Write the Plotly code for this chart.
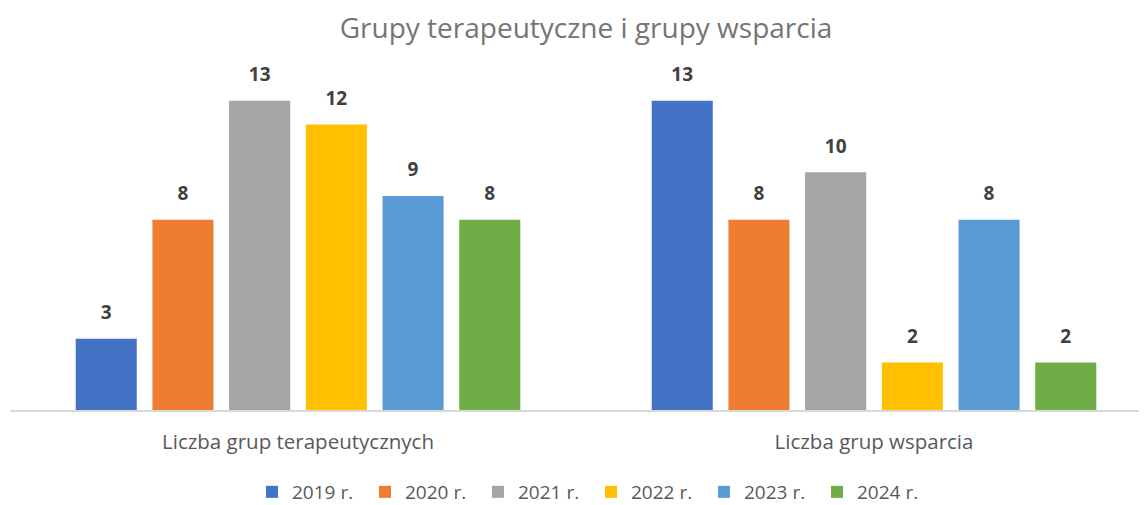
import plotly.graph_objects as go

categories = ["Liczba grup terapeutycznych", "Liczba grup wsparcia"]
series_names = ["2019 r.", "2020 r.", "2021 r.", "2022 r.", "2023 r.", "2024 r."]
v2019 = [3, 13]
v2020 = [8, 8]
v2021 = [13, 10]
v2022 = [12, 2]
v2023 = [9, 8]
v2024 = [8, 2]
values = [v2019, v2020, v2021, v2022, v2023, v2024]
colors = ["#4472C4", "#ED7D31", "#A5A5A5", "#FFC000", "#5B9BD5", "#70AD47"]

GAP = 0.201
W, H = 1139, 497  # page body adds an 8px margin

fig = go.Figure()
for name, vals, col in zip(series_names, values, colors):
    fig.add_trace(go.Bar(
        x=categories, y=vals, name=name,
        marker=dict(color=col, line=dict(width=0)),
        hoverinfo="skip",
    ))
for name, vals in zip(series_names, values):
    fig.add_trace(go.Scatter(
        x=categories, y=vals, name=name, mode="markers+text",
        marker=dict(size=22, color="rgba(0,0,0,0)"),
        text=[str(v) for v in vals], textposition="top center",
        textfont=dict(family="Open Sans", size=19, color="#404040", weight="bold"),
        showlegend=False, cliponaxis=False,
    ))

fig.update_layout(
    width=W, height=H,
    margin=dict(l=2, r=7, t=69, b=95, autoexpand=False),
    paper_bgcolor="white", plot_bgcolor="white",
    barmode="group", bargap=GAP, bargroupgap=0.204,
    scattermode="group", scattergap=GAP,
    title=dict(text="Grupy terapeutyczne i grupy wsparcia", x=(586-8)/W, xanchor="center",
               y=1 - 20/H, yanchor="middle", yref="container",
               font=dict(family="Open Sans", size=28, color="#757575")),
    legend=dict(orientation="h", x=(591-8)/W, xanchor="center", xref="container",
                y=(H-484)/H, yanchor="middle", yref="container",
                font=dict(family="Open Sans", size=19, color="#595959"),
                entrywidth=68, entrywidthmode="pixels", traceorder="normal"),
    showlegend=True,
)
fig.update_xaxes(
    range=[-0.5, 1.4618], showline=True, linecolor="#D9D9D9", linewidth=2,
    ticks="", showgrid=False, ticklabelstandoff=12, automargin=False,
    tickfont=dict(family="Open Sans", size=20.5, color="#595959"),
)
fig.update_yaxes(range=[0, 14], visible=False, showgrid=False, automargin=False)

fig.write_html("out.html")
